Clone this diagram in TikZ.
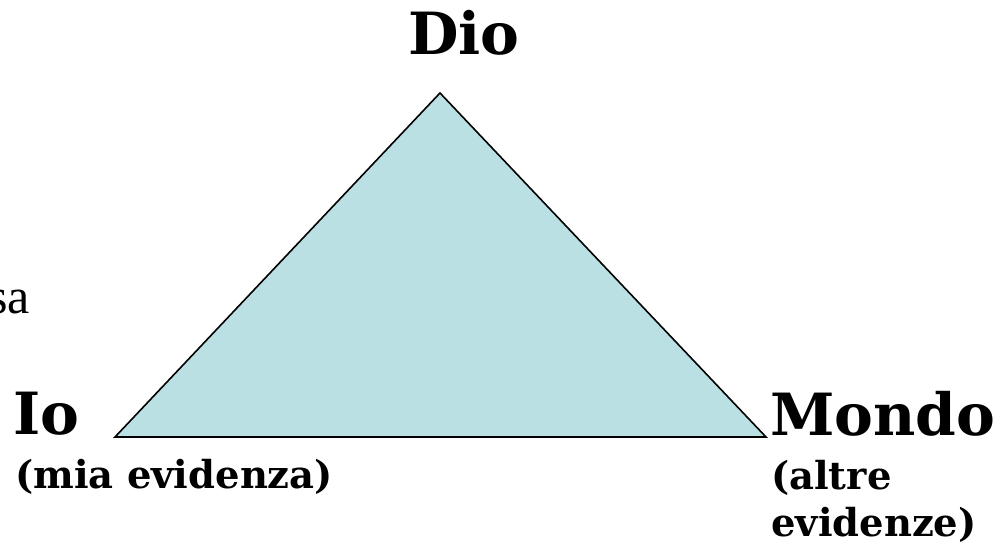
\documentclass[tikz,border=0pt]{standalone}
\usepackage{fontspec}
\setmainfont{Liberation Serif}
\newfontfamily\dvs{DejaVu Serif}
\definecolor{trifill}{RGB}{187,224,227}
\begin{document}
\begin{tikzpicture}[x=1pt,y=-1pt,
  biglabel/.style={inner sep=0pt,anchor=base west,font=\dvs\bfseries\fontsize{58.2}{69}\selectfont},
  sublabel/.style={inner sep=0pt,anchor=base west,font=\dvs\bfseries\fontsize{38.5}{47}\selectfont},
  tri/.style={draw=black,fill=trifill,line width=1.6pt,line join=miter}]
\useasboundingbox (0,0) rectangle (1005,548);
\coordinate (top) at (440,93);
\coordinate (bl) at (115,437);
\coordinate (br) at (766,437);
\draw[tri] (top) -- (bl) -- (br) -- cycle;
\node[biglabel] (dio) at (408,55) {Dio};
\node[biglabel] (io) at (13,434) {Io};
\node[biglabel] (mondo) at (770,435) {Mondo};
\node[sublabel] (mia) at (15,488) {(mia evidenza)};
\node[sublabel] (alt1) at (771,489) {(altre};
\node[sublabel] (alt2) at (771,536) {evidenze)};
\node[inner sep=0pt,anchor=base east,font=\fontsize{50}{60}\selectfont] (sa) at (30,314) {sa};
\end{tikzpicture}
\end{document}
